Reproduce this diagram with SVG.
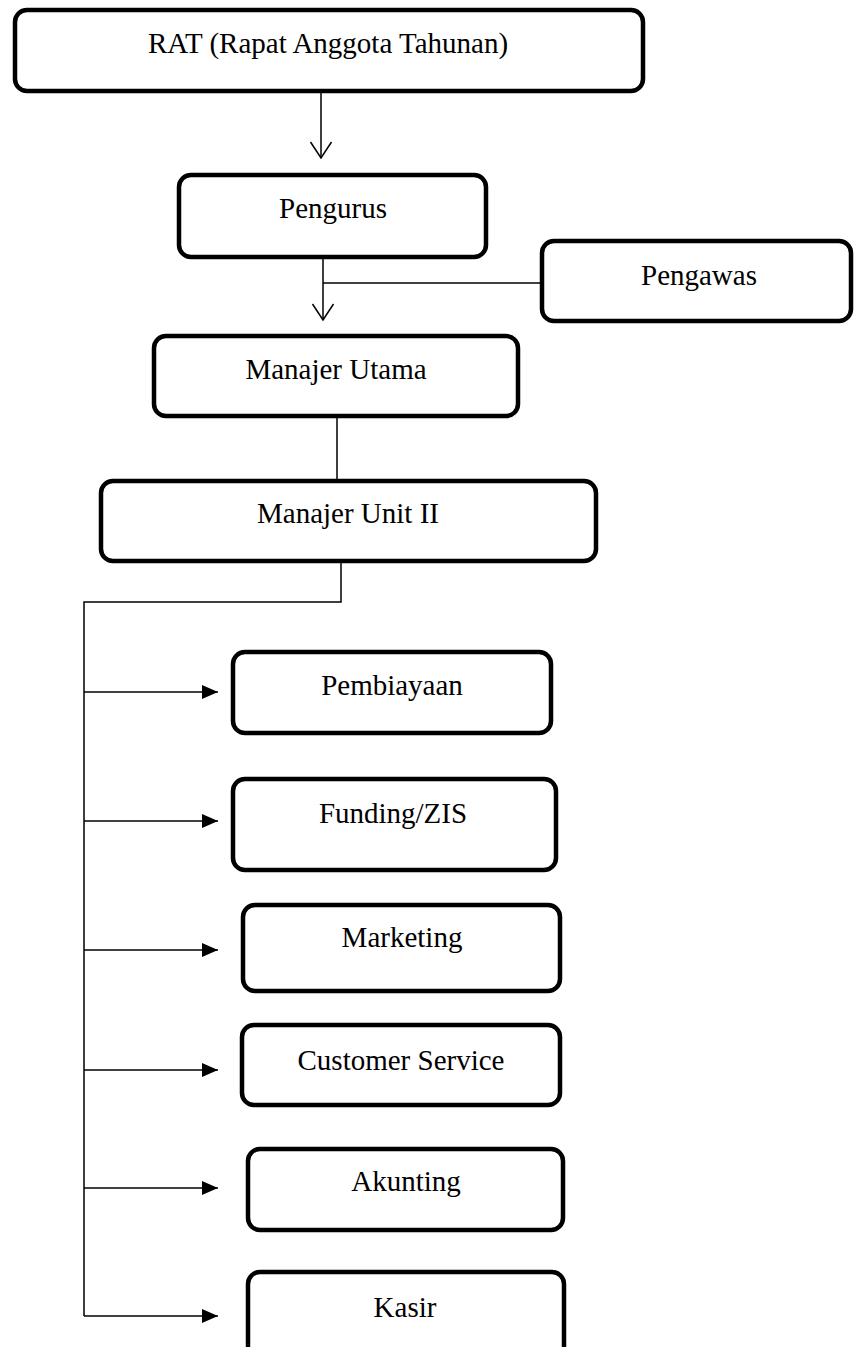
<svg xmlns="http://www.w3.org/2000/svg" width="855" height="1347" viewBox="0 0 855 1347">
<style>
.box{fill:#fff;stroke:#000;stroke-width:4.5}
.lbl{font-family:"Liberation Serif","Times New Roman",serif;font-size:29px;fill:#000;text-anchor:middle}
.ln{fill:none;stroke:#000;stroke-width:1.5}
</style>
<defs>
<marker id="tri" viewBox="0 0 16 14" refX="16" refY="7" markerWidth="16" markerHeight="14" markerUnits="userSpaceOnUse" orient="auto">
<path d="M0,0 L16,7 L0,14 Z" fill="#000"/>
</marker>
<marker id="vee" viewBox="0 0 18 24" refX="17" refY="12" markerWidth="18" markerHeight="24" markerUnits="userSpaceOnUse" orient="auto">
<path d="M1,1.5 L17,12 L1,22.5" fill="none" stroke="#000" stroke-width="1.5"/>
</marker>
</defs>
<rect width="855" height="1347" fill="#fff"/>
<g id="connectors">
<line class="ln" x1="321" y1="92" x2="321" y2="158" marker-end="url(#vee)"/>
<line class="ln" x1="323" y1="259" x2="323" y2="320" marker-end="url(#vee)"/>
<line class="ln" x1="323" y1="283" x2="541" y2="283"/>
<line class="ln" x1="337" y1="418" x2="337" y2="480"/>
<polyline class="ln" points="341,563 341,602 84,602 84,1316"/>
<line class="ln" x1="84" y1="692" x2="218" y2="692" marker-end="url(#tri)"/>
<line class="ln" x1="84" y1="821" x2="218" y2="821" marker-end="url(#tri)"/>
<line class="ln" x1="84" y1="950" x2="218" y2="950" marker-end="url(#tri)"/>
<line class="ln" x1="84" y1="1070" x2="218" y2="1070" marker-end="url(#tri)"/>
<line class="ln" x1="84" y1="1188" x2="218" y2="1188" marker-end="url(#tri)"/>
<line class="ln" x1="84" y1="1316" x2="218" y2="1316" marker-end="url(#tri)"/>
</g>
<g id="rat"><rect class="box" x="15" y="10" width="628" height="81" rx="12"/><text class="lbl" x="328" y="53">RAT (Rapat Anggota Tahunan)</text></g>
<g id="pengurus"><rect class="box" x="179" y="175" width="307" height="82" rx="12"/><text class="lbl" x="333" y="218">Pengurus</text></g>
<g id="pengawas"><rect class="box" x="542" y="241" width="309" height="80" rx="12"/><text class="lbl" x="699" y="285">Pengawas</text></g>
<g id="manajer-utama"><rect class="box" x="154" y="336" width="364" height="80" rx="12"/><text class="lbl" x="336" y="379">Manajer Utama</text></g>
<g id="manajer-unit"><rect class="box" x="101" y="481" width="495" height="80" rx="12"/><text class="lbl" x="348" y="523">Manajer Unit II</text></g>
<g id="pembiayaan"><rect class="box" x="233" y="652" width="318" height="81" rx="12"/><text class="lbl" x="392" y="695">Pembiayaan</text></g>
<g id="funding"><rect class="box" x="233" y="779" width="323" height="91" rx="12"/><text class="lbl" x="393" y="823">Funding/ZIS</text></g>
<g id="marketing"><rect class="box" x="243" y="905" width="317" height="86" rx="12"/><text class="lbl" x="402" y="947">Marketing</text></g>
<g id="customer-service"><rect class="box" x="242" y="1025" width="318" height="80" rx="12"/><text class="lbl" x="401" y="1070">Customer Service</text></g>
<g id="akunting"><rect class="box" x="248" y="1149" width="315" height="81" rx="12"/><text class="lbl" x="406" y="1191">Akunting</text></g>
<g id="kasir"><rect class="box" x="248" y="1272" width="316" height="90" rx="12"/><text class="lbl" x="405" y="1317">Kasir</text></g>
</svg>
